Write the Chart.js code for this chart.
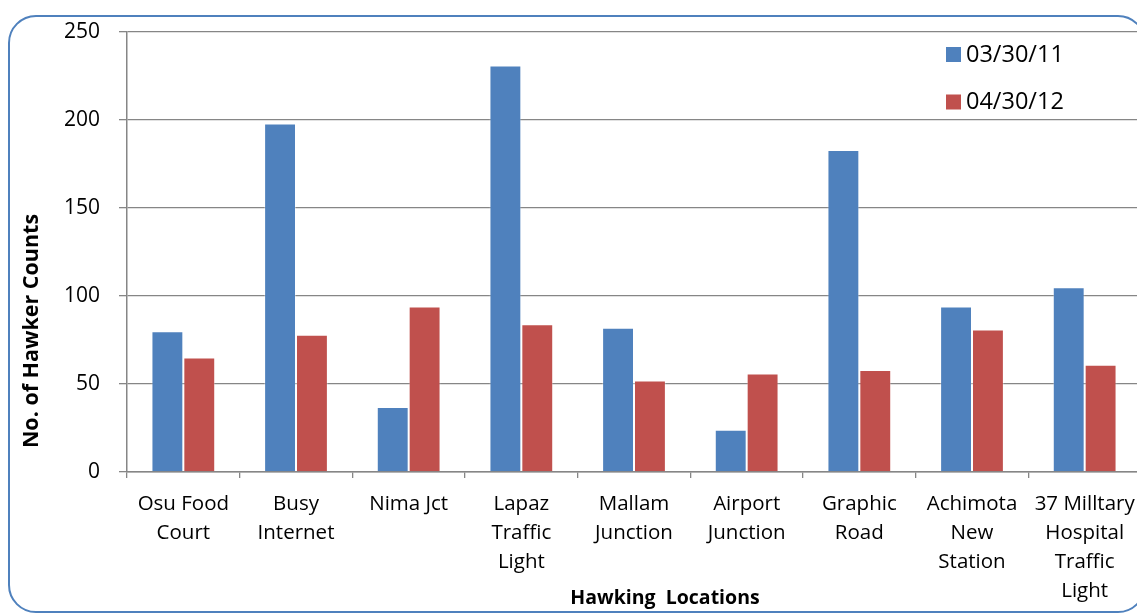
<!DOCTYPE html>
<html>
<head>
<meta charset="utf-8">
<script src="https://cdn.jsdelivr.net/npm/chart.js@4.4.0/dist/chart.umd.min.js"></script>
<style>
  html, body { margin: 0; padding: 0; background: #fff; overflow: hidden; width: 1137px; height: 613px; }
  #wrap { position: relative; width: 1150px; height: 613px; }
  #frame { position: absolute; left: 8px; top: 15px; width: 1134px; height: 594px; border: 2px solid #4F81BD; border-radius: 28px; box-sizing: content-box; pointer-events: none; }
  canvas { position: absolute; left: 0; top: 0; }
</style>
</head>
<body>
<div id="wrap">
  <div id="frame"></div>
  <canvas id="c" width="1150" height="613"></canvas>
</div>
<script>
// ---- data ----
const categories = [
  ["Osu Food", "Court"],
  ["Busy", "Internet"],
  ["Nima Jct"],
  ["Lapaz", "Traffic", "Light"],
  ["Mallam", "Junction"],
  ["Airport", "Junction"],
  ["Graphic", "Road"],
  ["Achimota", "New", "Station"],
  ["37 Milltary", "Hospital", "Traffic", "Light"]
];
const seriesNames = ["03/30/11", "04/30/12"];
const values2011 = [80, 198, 37, 231, 82, 24, 183, 94, 105];
const values2012 = [65, 78, 94, 84, 52, 56, 58, 81, 61];
const yTicks = [0, 50, 100, 150, 200, 250];
const yAxisTitle = "No. of Hawker Counts";
const xAxisTitle = "Hawking  Locations";

const FONT = "'Open Sans', 'Noto Sans', sans-serif";
const colors = ["#4F81BD", "#C0504D"];

const overlayPlugin = {
  id: 'overlay',
  afterDraw(chart) {
    const ctx = chart.ctx;
    ctx.save();
    // legend
    const ds = chart.data.datasets;
    ctx.font = "23.5px " + FONT;
    ctx.textBaseline = 'middle';
    ctx.textAlign = 'left';
    ds.forEach((d, i) => {
      const cy = 54 + i * 47.5;
      ctx.fillStyle = d.backgroundColor;
      ctx.fillRect(946, cy - 7, 15, 15);
      ctx.fillStyle = '#000';
      ctx.fillText(d.label, 966, cy + 1);
    });
    // axis titles
    ctx.fillStyle = '#000';
    ctx.textAlign = 'center';
    ctx.textBaseline = 'middle';
    ctx.font = "bold 19.5px " + FONT;
    ctx.fillText(xAxisTitle, 665, 598);
    ctx.font = "bold 21.5px " + FONT;
    ctx.translate(32, 331);
    ctx.rotate(-Math.PI / 2);
    ctx.fillText(yAxisTitle, 0, 0);
    ctx.restore();
  }
};

new Chart(document.getElementById('c'), {
  type: 'bar',
  data: {
    labels: categories,
    datasets: [
      { label: seriesNames[0], data: values2011, backgroundColor: colors[0], borderColor: 'rgba(255,255,255,0.35)', borderWidth: 1 },
      { label: seriesNames[1], data: values2012, backgroundColor: colors[1], borderColor: 'rgba(255,255,255,0.35)', borderWidth: 1 }
    ]
  },
  options: {
    responsive: false,
    devicePixelRatio: 1,
    animation: false,
    layout: { padding: { left: 0, top: 32, right: 9, bottom: 0 } },
    plugins: { legend: { display: false }, tooltip: { enabled: false }, title: { display: false } },
    datasets: { bar: { categoryPercentage: 0.566, barPercentage: 1.0 } },
    scales: {
      x: {
        offset: true,
        grid: { offset: true, drawOnChartArea: false, drawTicks: true, tickLength: 6, color: '#868686', lineWidth: 1.3 },
        border: { display: true, color: '#868686', width: 1.5 },
        ticks: { color: '#000', font: { family: FONT, size: 20.5, lineHeight: 1.43 }, padding: 11, maxRotation: 0, autoSkip: false },
        afterFit(scale) { scale.height = 613 - 472; }
      },
      y: {
        min: 0, max: 250,
        afterBuildTicks(scale) { scale.ticks = yTicks.map(v => ({ value: v })); },
        grid: { color: '#868686', lineWidth: 1.3, tickLength: 8 },
        border: { display: true, color: '#868686', width: 1.5 },
        ticks: { color: '#000', font: { family: FONT, size: 21 }, padding: 19 },
        afterFit(scale) { scale.width = 127; }
      }
    }
  },
  plugins: [overlayPlugin]
});
</script>
</body>
</html>
